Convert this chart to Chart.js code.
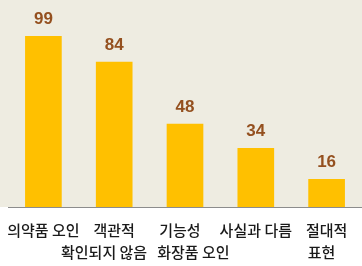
<!DOCTYPE html>
<html>
<head>
<meta charset="utf-8">
<script src="https://cdn.jsdelivr.net/npm/chart.js@4"></script>
<style>
  html, body { margin: 0; padding: 0; background: #fff; }
  #wrap { width: 362px; height: 266px; position: relative; }
</style>
</head>
<body>
<div id="wrap"><canvas id="barChart"></canvas></div>
<script>
// spaces nudge the wrapped lines the way the original cells were laid out
const categories = [
    ['의약품 오인'],
    ['객관적', '확인되지 않음      '],
    ['기능성   ', '     화장품 오인'],
    ['사실과 다름'],
    ['절대적', '표현   ']
];
const counts = [99, 84, 48, 34, 16];

// beige area behind the bars, white below the axis
const plotBackground = {
    id: 'plotBackground',
    beforeDraw(chart) {
        const ctx = chart.ctx;
        const area = chart.chartArea;
        ctx.save();
        ctx.fillStyle = '#EEECE1';
        ctx.fillRect(0, 0, chart.width, area.bottom);
        ctx.restore();
    }
};

// value labels above each bar
const valueLabels = {
    id: 'valueLabels',
    afterDatasetsDraw(chart) {
        const ctx = chart.ctx;
        const meta = chart.getDatasetMeta(0);
        ctx.save();
        ctx.font = 'bold 17px "Liberation Sans", sans-serif';
        ctx.fillStyle = '#94501F';
        ctx.textAlign = 'center';
        ctx.textBaseline = 'middle';
        meta.data.forEach(function(bar, i) {
            ctx.fillText(counts[i], bar.x, bar.y - 17);
        });
        ctx.restore();
    }
};

const ctx = document.getElementById('barChart').getContext('2d');
new Chart(ctx, {
    type: 'bar',
    data: {
        labels: categories,
        datasets: [{
            data: counts,
            backgroundColor: '#FFC000',
            barThickness: 36
        }]
    },
    options: {
        responsive: true,
        maintainAspectRatio: false,
        animation: false,
        layout: {
            padding: { left: 8, right: -2, top: 0, bottom: 0 }
        },
        plugins: {
            legend: { display: false },
            tooltip: { enabled: false }
        },
        scales: {
            y: {
                display: false,
                beginAtZero: true,
                min: 0,
                max: 120
            },
            x: {
                grid: { display: false, drawTicks: false },
                border: { display: true, color: '#8C8C8C', width: 1 },
                afterFit: function(scale) {
                    scale.height = 59;
                    scale.paddingLeft = 0;
                    scale.paddingRight = 0;
                },
                ticks: {
                    color: '#1A1A1A',
                    padding: 12,
                    maxRotation: 0,
                    autoSkip: false,
                    font: {
                        family: '"Noto Sans CJK KR", sans-serif',
                        size: 15,
                        weight: '500',
                        lineHeight: 1.5
                    }
                }
            }
        }
    },
    plugins: [plotBackground, valueLabels]
});
</script>
</body>
</html>
